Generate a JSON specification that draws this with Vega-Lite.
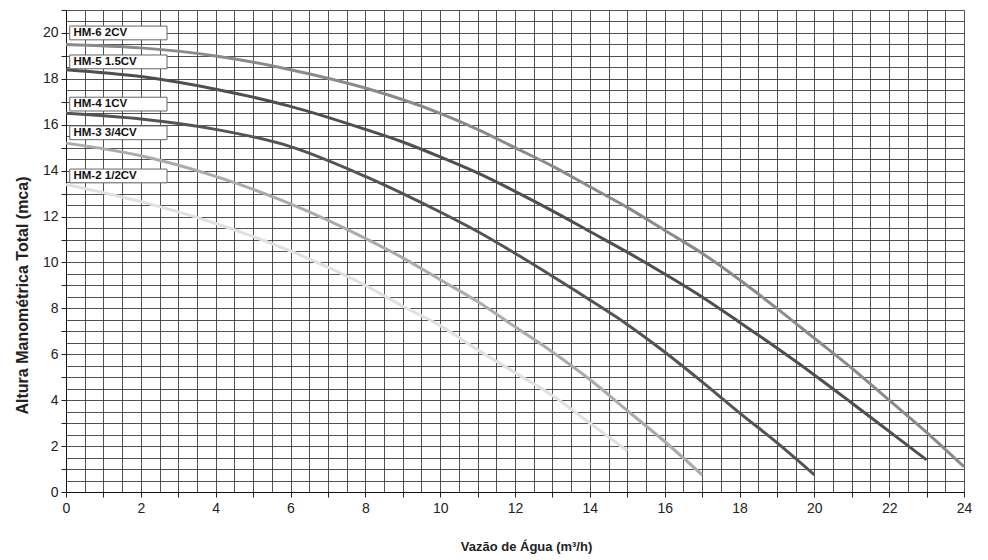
{
  "$schema": "https://vega.github.io/schema/vega-lite/v6.json",
  "autosize": {"type": "none"},
  "width": 898,
  "height": 482,
  "padding": {"left": 66, "top": 10, "right": 24, "bottom": 68},
  "background": "white",
  "config": {
    "view": {"stroke": null},
    "font": "Liberation Sans"
  },
  "datasets": {
    "curves": [
      {"model": "HM-6 2CV", "q": 0, "h": 19.5},
      {"model": "HM-6 2CV", "q": 2, "h": 19.35},
      {"model": "HM-6 2CV", "q": 4, "h": 19.0},
      {"model": "HM-6 2CV", "q": 6, "h": 18.4},
      {"model": "HM-6 2CV", "q": 8, "h": 17.6},
      {"model": "HM-6 2CV", "q": 10, "h": 16.5},
      {"model": "HM-6 2CV", "q": 11, "h": 15.8},
      {"model": "HM-6 2CV", "q": 12, "h": 15.0},
      {"model": "HM-6 2CV", "q": 13, "h": 14.2},
      {"model": "HM-6 2CV", "q": 14, "h": 13.3},
      {"model": "HM-6 2CV", "q": 15, "h": 12.4},
      {"model": "HM-6 2CV", "q": 16, "h": 11.4},
      {"model": "HM-6 2CV", "q": 17, "h": 10.4},
      {"model": "HM-6 2CV", "q": 18, "h": 9.25},
      {"model": "HM-6 2CV", "q": 19, "h": 8.0},
      {"model": "HM-6 2CV", "q": 20, "h": 6.7},
      {"model": "HM-6 2CV", "q": 21, "h": 5.4},
      {"model": "HM-6 2CV", "q": 22, "h": 4.0},
      {"model": "HM-6 2CV", "q": 23, "h": 2.6},
      {"model": "HM-6 2CV", "q": 24, "h": 1.1},
      {"model": "HM-5 1.5CV", "q": 0, "h": 18.4},
      {"model": "HM-5 1.5CV", "q": 2, "h": 18.1},
      {"model": "HM-5 1.5CV", "q": 4, "h": 17.55},
      {"model": "HM-5 1.5CV", "q": 6, "h": 16.8},
      {"model": "HM-5 1.5CV", "q": 8, "h": 15.8},
      {"model": "HM-5 1.5CV", "q": 9, "h": 15.25},
      {"model": "HM-5 1.5CV", "q": 10, "h": 14.6},
      {"model": "HM-5 1.5CV", "q": 11, "h": 13.9},
      {"model": "HM-5 1.5CV", "q": 12, "h": 13.1},
      {"model": "HM-5 1.5CV", "q": 13, "h": 12.25},
      {"model": "HM-5 1.5CV", "q": 14, "h": 11.35},
      {"model": "HM-5 1.5CV", "q": 15, "h": 10.45},
      {"model": "HM-5 1.5CV", "q": 16, "h": 9.5},
      {"model": "HM-5 1.5CV", "q": 17, "h": 8.5},
      {"model": "HM-5 1.5CV", "q": 18, "h": 7.4},
      {"model": "HM-5 1.5CV", "q": 19, "h": 6.27},
      {"model": "HM-5 1.5CV", "q": 20, "h": 5.1},
      {"model": "HM-5 1.5CV", "q": 21, "h": 3.88},
      {"model": "HM-5 1.5CV", "q": 22, "h": 2.64},
      {"model": "HM-5 1.5CV", "q": 23, "h": 1.4},
      {"model": "HM-4 1CV", "q": 0, "h": 16.5},
      {"model": "HM-4 1CV", "q": 2, "h": 16.25},
      {"model": "HM-4 1CV", "q": 4, "h": 15.8},
      {"model": "HM-4 1CV", "q": 6, "h": 15.05},
      {"model": "HM-4 1CV", "q": 8, "h": 13.75},
      {"model": "HM-4 1CV", "q": 9, "h": 13.0},
      {"model": "HM-4 1CV", "q": 10, "h": 12.2},
      {"model": "HM-4 1CV", "q": 11, "h": 11.35},
      {"model": "HM-4 1CV", "q": 12, "h": 10.4},
      {"model": "HM-4 1CV", "q": 13, "h": 9.4},
      {"model": "HM-4 1CV", "q": 14, "h": 8.37},
      {"model": "HM-4 1CV", "q": 15, "h": 7.3},
      {"model": "HM-4 1CV", "q": 16, "h": 6.1},
      {"model": "HM-4 1CV", "q": 17, "h": 4.8},
      {"model": "HM-4 1CV", "q": 18, "h": 3.45},
      {"model": "HM-4 1CV", "q": 19, "h": 2.15},
      {"model": "HM-4 1CV", "q": 20, "h": 0.75},
      {"model": "HM-3 3/4CV", "q": 0, "h": 15.2},
      {"model": "HM-3 3/4CV", "q": 2, "h": 14.65},
      {"model": "HM-3 3/4CV", "q": 4, "h": 13.75},
      {"model": "HM-3 3/4CV", "q": 6, "h": 12.55},
      {"model": "HM-3 3/4CV", "q": 8, "h": 11.05},
      {"model": "HM-3 3/4CV", "q": 9, "h": 10.2},
      {"model": "HM-3 3/4CV", "q": 10, "h": 9.25},
      {"model": "HM-3 3/4CV", "q": 11, "h": 8.3},
      {"model": "HM-3 3/4CV", "q": 12, "h": 7.2},
      {"model": "HM-3 3/4CV", "q": 13, "h": 6.1},
      {"model": "HM-3 3/4CV", "q": 14, "h": 4.9},
      {"model": "HM-3 3/4CV", "q": 15, "h": 3.55},
      {"model": "HM-3 3/4CV", "q": 16, "h": 2.2},
      {"model": "HM-3 3/4CV", "q": 17, "h": 0.75},
      {"model": "HM-2 1/2CV", "q": 0, "h": 13.4},
      {"model": "HM-2 1/2CV", "q": 2, "h": 12.65},
      {"model": "HM-2 1/2CV", "q": 4, "h": 11.7},
      {"model": "HM-2 1/2CV", "q": 6, "h": 10.5},
      {"model": "HM-2 1/2CV", "q": 8, "h": 9.0},
      {"model": "HM-2 1/2CV", "q": 9, "h": 8.1},
      {"model": "HM-2 1/2CV", "q": 10, "h": 7.25},
      {"model": "HM-2 1/2CV", "q": 11, "h": 6.2},
      {"model": "HM-2 1/2CV", "q": 12, "h": 5.2},
      {"model": "HM-2 1/2CV", "q": 13, "h": 4.2},
      {"model": "HM-2 1/2CV", "q": 14, "h": 3.0},
      {"model": "HM-2 1/2CV", "q": 15, "h": 1.8}
    ],
    "labels": [
      {"model": "HM-6 2CV", "x1": 0.1, "x2": 2.7, "tx": 0.2, "y": 20.0, "y1": 19.7, "y2": 20.3},
      {"model": "HM-5 1.5CV", "x1": 0.1, "x2": 2.7, "tx": 0.2, "y": 18.74, "y1": 18.44, "y2": 19.04},
      {"model": "HM-4 1CV", "x1": 0.1, "x2": 2.7, "tx": 0.2, "y": 16.9, "y1": 16.6, "y2": 17.2},
      {"model": "HM-3 3/4CV", "x1": 0.1, "x2": 2.7, "tx": 0.2, "y": 15.65, "y1": 15.35, "y2": 15.95},
      {"model": "HM-2 1/2CV", "x1": 0.1, "x2": 2.7, "tx": 0.2, "y": 13.77, "y1": 13.47, "y2": 14.07}
    ]
  },
  "layer": [
    {
      "data": {"name": "curves"},
      "mark": {"type": "line", "interpolate": "monotone", "strokeWidth": 3, "strokeCap": "butt"},
      "encoding": {
        "x": {
          "field": "q", "type": "quantitative",
          "scale": {"domain": [0, 24], "nice": false, "zero": false},
          "axis": {
            "title": "Vazão de Água (m³/h)",
            "titleFont": "Liberation Sans", "titleFontSize": 13, "titleFontWeight": "bold", "titleColor": "#222",
            "titlePadding": 25, "titleX": 460,
            "tickCount": 200,
            "values": [0,0.5,1,1.5,2,2.5,3,3.5,4,4.5,5,5.5,6,6.5,7,7.5,8,8.5,9,9.5,10,10.5,11,11.5,12,12.5,13,13.5,14,14.5,15,15.5,16,16.5,17,17.5,18,18.5,19,19.5,20,20.5,21,21.5,22,22.5,23,23.5,24],
            "labelExpr": "datum.value % 2 === 0 ? format(datum.value, 'd') : ''",
            "labelFont": "Liberation Sans", "labelFontSize": 14, "labelColor": "#222",
            "labelFlush": false, "labelOverlap": false, "labelPadding": 4,
            "tickSize": 5, "tickColor": "#222",
            "tickOpacity": {"condition": {"test": "datum.value % 1 !== 0", "value": 0}, "value": 1},
            "domainColor": "#111",
            "grid": true, "gridColor": "#333", "gridWidth": 1, "gridOpacity": 0.85
          }
        },
        "y": {
          "field": "h", "type": "quantitative",
          "scale": {"domain": [0, 21], "nice": false},
          "axis": {
            "title": "Altura Manométrica Total (mca)",
            "titleFont": "Liberation Sans", "titleFontSize": 16, "titleFontWeight": "bold", "titleColor": "#222",
            "titlePadding": 12, "titleY": 285,
            "tickCount": 200,
            "values": [0,0.5,1,1.5,2,2.5,3,3.5,4,4.5,5,5.5,6,6.5,7,7.5,8,8.5,9,9.5,10,10.5,11,11.5,12,12.5,13,13.5,14,14.5,15,15.5,16,16.5,17,17.5,18,18.5,19,19.5,20,20.5,21],
            "labelExpr": "datum.value % 2 === 0 ? format(datum.value, 'd') : ''",
            "labelFont": "Liberation Sans", "labelFontSize": 14, "labelColor": "#222",
            "labelFlush": false, "labelOverlap": false, "labelPadding": 3,
            "tickSize": 5, "tickColor": "#222",
            "tickOpacity": {"condition": {"test": "datum.value % 1 !== 0", "value": 0}, "value": 1},
            "domainColor": "#111",
            "grid": true, "gridColor": "#333", "gridWidth": 1, "gridOpacity": 0.85
          }
        },
        "color": {
          "field": "model", "type": "nominal",
          "scale": {
            "domain": ["HM-6 2CV", "HM-5 1.5CV", "HM-4 1CV", "HM-3 3/4CV", "HM-2 1/2CV"],
            "range": ["#8a8a8a", "#4f4f4f", "#545454", "#ababab", "#e0e0e0"]
          },
          "legend": null
        },
        "detail": {"field": "model"}
      }
    },
    {
      "data": {"name": "labels"},
      "mark": {"type": "rect", "fill": "white", "stroke": "#666", "strokeWidth": 1},
      "encoding": {
        "x": {"field": "x1", "type": "quantitative"},
        "x2": {"field": "x2"},
        "y": {"field": "y1", "type": "quantitative"},
        "y2": {"field": "y2"}
      }
    },
    {
      "data": {"name": "labels"},
      "mark": {"type": "text", "align": "left", "baseline": "middle", "font": "Liberation Sans", "fontSize": 11.5, "fontWeight": "bold", "color": "#111"},
      "encoding": {
        "x": {"field": "tx", "type": "quantitative"},
        "y": {"field": "y", "type": "quantitative"},
        "text": {"field": "model"}
      }
    }
  ]
}
